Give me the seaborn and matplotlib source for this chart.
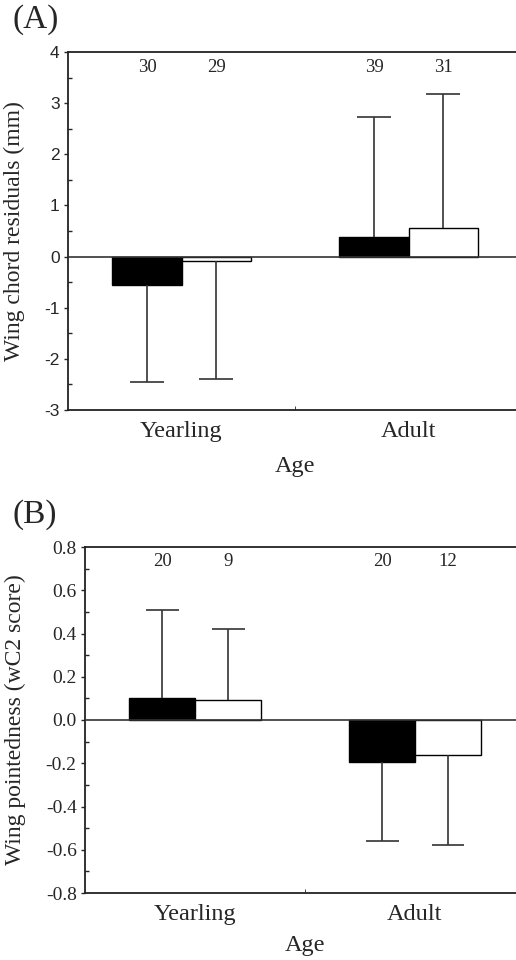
import matplotlib
matplotlib.use("Agg")
import matplotlib.pyplot as plt
import seaborn as sns
import pandas as pd
import numpy as np
from matplotlib.ticker import MultipleLocator, FixedLocator, FormatStrFormatter

# Data
ages = ["Yearling", "Adult"]
groups = ["g1", "g2"]  # black bars, white bars

# Panel A: wing chord residuals (mm)
chord_mean = [-0.55, -0.08, 0.39, 0.55]
chord_sd = [1.90, 2.32, 2.33, 2.62]
chord_n = [30, 29, 39, 31]

# Panel B: wing pointedness (wC2 score)
point_mean = [0.104, 0.091, -0.194, -0.160]
point_sd = [0.406, 0.329, 0.366, 0.418]
point_n = [20, 9, 20, 12]

SERIF = "Liberation Serif"
SANS = "Liberation Sans"

sns.set_style("ticks")
plt.rcParams["font.family"] = [SERIF, "DejaVu Serif"]


def make_frame(means):
    return pd.DataFrame({
        "Age": [a for a in ages for _ in groups],
        "Group": groups * len(ages),
        "value": means,
    })


def draw_panel(ax, means, sds, ns, width, ylim, ymajor, yminor,
               ylabel, tick_family, tick_size, fmt, n_y, xlabelpad):
    df = make_frame(means)
    sns.barplot(data=df, x="Age", y="value", hue="Group", order=ages,
                hue_order=groups, palette=["black", "white"],
                edgecolor="black", linewidth=1.0, width=width, gap=0,
                errorbar=None, legend=False, ax=ax)

    # one-sided error bars, drawn away from zero
    bars = sorted(ax.patches, key=lambda p: p.get_x())
    xs = np.array([b.get_x() + b.get_width() / 2 for b in bars])
    bw = bars[0].get_width()
    means = np.array(means)
    sds = np.array(sds)
    ends = means + np.sign(means) * sds
    ax.vlines(xs, means, ends, color="#333333", lw=1.2, zorder=1)
    ax.hlines(ends, xs - bw * 0.25, xs + bw * 0.25, color="#333333",
              lw=1.2, zorder=1)

    for x, n in zip(xs, ns):
        ax.text(x, n_y, str(n), ha="center", va="center",
                fontsize=13.5, family=SERIF)

    ax.axhline(0, color="#333333", lw=1.2, zorder=3)
    ax.set_xlim(-0.5, 1.5)
    ax.set_ylim(*ylim)
    ax.yaxis.set_major_locator(MultipleLocator(ymajor))
    ax.yaxis.set_minor_locator(MultipleLocator(yminor))
    ax.yaxis.set_major_formatter(fmt)
    ax.xaxis.set_minor_locator(FixedLocator([0.5]))
    ax.tick_params(axis="y", which="major", direction="out", length=3,
                   width=1, pad=3)
    ax.tick_params(axis="y", which="minor", direction="in", length=3,
                   width=1)
    ax.tick_params(axis="x", which="major", length=0, pad=8,
                   labelsize=17.5)
    ax.tick_params(axis="x", which="minor", direction="in", length=3)
    for lab in ax.get_yticklabels():
        lab.set_family(tick_family)
        lab.set_fontsize(tick_size)
    for lab in ax.get_xticklabels():
        lab.set_family(SERIF)

    for side in ["left", "bottom", "top"]:
        ax.spines[side].set_visible(True)
        ax.spines[side].set_color("#222222")
        ax.spines[side].set_linewidth(1.3)
    ax.spines["right"].set_visible(False)

    ax.set_xlabel("Age", fontsize=17.5, labelpad=xlabelpad, family=SERIF)
    ax.set_ylabel(ylabel, fontsize=17, family=SERIF)


fig = plt.figure(figsize=(5.16, 9.6), dpi=100)

ax1 = fig.add_axes([68 / 516, 1 - 410 / 960, 454 / 516, 358 / 960])
draw_panel(ax1, chord_mean, chord_sd, chord_n, width=0.608,
           ylim=(-3, 4), ymajor=1, yminor=0.5,
           ylabel="Wing chord residuals (mm)", tick_family=SANS,
           tick_size=12.5, fmt=FormatStrFormatter("%d"),
           n_y=3.69, xlabelpad=10)
ax1.yaxis.set_label_coords(-0.095, 0.5)

ax2 = fig.add_axes([85 / 516, 1 - 893 / 960, 440 / 516, 346 / 960])
draw_panel(ax2, point_mean, point_sd, point_n, width=0.6,
           ylim=(-0.8, 0.8), ymajor=0.2, yminor=0.1,
           ylabel="Wing pointedness (wC2 score)", tick_family=SERIF,
           tick_size=14, fmt=FormatStrFormatter("%.1f"),
           n_y=0.735, xlabelpad=7)
ax2.yaxis.set_label_coords(-0.135, 0.5)

fig.text(12 / 516, 1 - 20 / 960, "(A)", fontsize=24, family=SERIF,
         va="center", ha="left")
fig.text(12 / 516, 1 - 515 / 960, "(B)", fontsize=24, family=SERIF,
         va="center", ha="left")

fig.savefig("out.png", dpi=100)
